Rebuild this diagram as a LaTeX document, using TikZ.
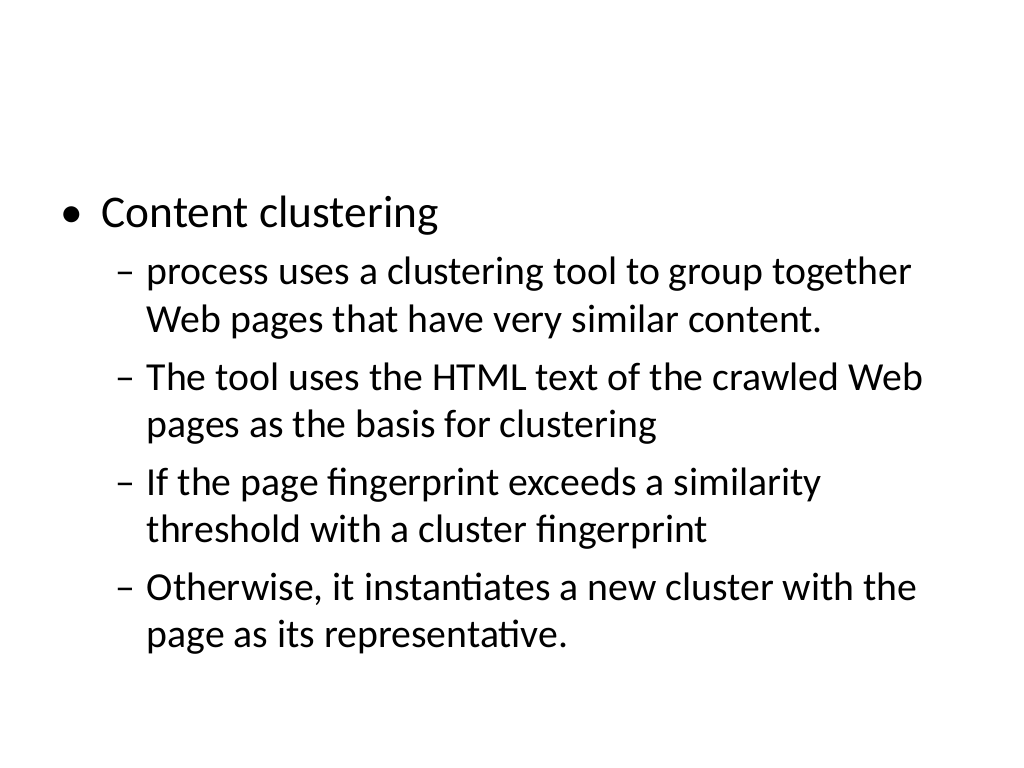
\documentclass[tikz,border=0pt]{standalone}
\usepackage{fontspec}
\setmainfont{Carlito}
\tikzset{
  mainitem/.style={anchor=base west, inner sep=0pt, font=\fontsize{12.9pt}{15pt}\selectfont},
  subitem/.style={anchor=base west, inner sep=0pt, font=\fontsize{11.3pt}{13.6pt}\selectfont}
}
\begin{document}
\begin{tikzpicture}[x=0.01cm, y=-0.01cm]
    \useasboundingbox (0, 0) rectangle (1024, 768);
    \node[mainitem] (B0) at (60, 228) {\textbullet};
    \node[mainitem] (T0) at (101, 228) {Content clustering};

    \node[subitem] (D1) at (115, 285) {--};
    \node[subitem] (T1a) at (146, 285) {process uses a clustering tool to group together};
    \node[subitem] (T1b) at (146, 333) {Web pages that have very similar content.};

    \node[subitem] (D2) at (115, 391) {--};
    \node[subitem] (T2a) at (146, 391) {The tool uses the HTML text of the crawled Web};
    \node[subitem] (T2b) at (146, 438) {pages as the basis for clustering};

    \node[subitem] (D3) at (115, 496) {--};
    \node[subitem] (T3a) at (146, 496) {If the page fingerprint exceeds a similarity};
    \node[subitem] (T3b) at (146, 543) {threshold with a cluster fingerprint};

    \node[subitem] (D4) at (115, 601) {--};
    \node[subitem] (T4a) at (146, 601) {Otherwise, it instantiates a new cluster with the};
    \node[subitem] (T4b) at (146, 648) {page as its representative.};
\end{tikzpicture}
\end{document}
